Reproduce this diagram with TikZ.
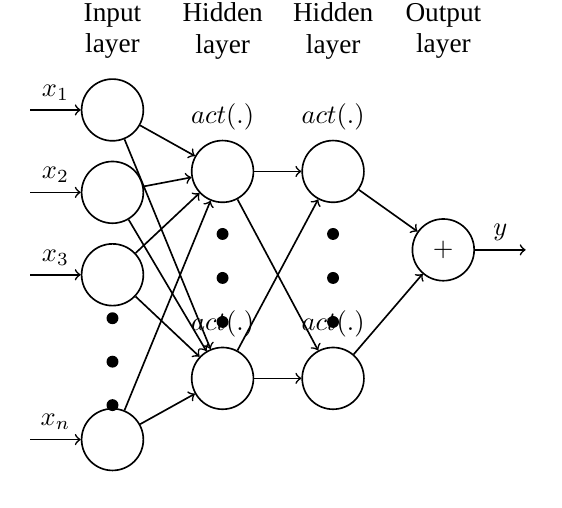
\documentclass[tikz,border=0pt]{standalone}
\usepackage[no-math]{fontspec}
\setmainfont{Liberation Serif}
\usepackage{tikz}
\usetikzlibrary{arrows,shapes,positioning}
\tikzstyle{neuron} = [circle, minimum size = 23.3pt, inner sep = 0pt, draw = black]
\tikzstyle{dot} = [circle, minimum size = 4.5pt, inner sep = 0pt, fill = black]
\tikzstyle{head} = [align = center, font = \fontsize{10.3}{12}\selectfont]

\begin{document}
\begin{tikzpicture}[node distance = 31.1pt, line width = 0.62pt]
        \useasboundingbox (0,0) rectangle (212.1pt,-191.7pt);
        % input layer
        \node (in1) [neuron] at (42.45pt,-41.5pt) {};
        \node (in2) [neuron,below of=in1] {};
        \node (in3) [neuron,below of=in2] {};
        \node (inn) [neuron,below of=in3,node distance=62.2pt] {};
        % hidden layers
        \node (h1a) [neuron,label={above:$act(.)$}] at (84pt,-64.7pt) {};
        \node (h1b) [neuron,label={above:$act(.)$},below of=h1a,node distance=78.1pt] {};
        \node (h2a) [neuron,label={above:$act(.)$},right of=h1a,node distance=41.7pt] {};
        \node (h2b) [neuron,label={above:$act(.)$},right of=h1b,node distance=41.7pt] {};
        % output layer
        \node (out) [neuron] at (167.3pt,-94.3pt) {$+$};
        % titles
        \node (lin)  [head,above of=in1,node distance=29.8pt] {Input\\layer};
        \node (lh1)  [head,right of=lin,node distance=41.6pt] {Hidden\\layer};
        \node (lh2)  [head,right of=lh1,node distance=41.7pt] {Hidden\\layer};
        \node (lout) [head,right of=lh2,node distance=41.6pt] {Output\\layer};
        % free ends
        \node (s1) [coordinate,left of=in1] {};
        \node (s2) [coordinate,left of=in2] {};
        \node (s3) [coordinate,left of=in3] {};
        \node (sn) [coordinate,left of=inn] {};
        \node (yend) [coordinate,right of=out] {};
        % inputs
        \draw [->] (s1) -- node[above]{$x_1$} (in1);
        \draw [->] (s2) -- node[above]{$x_2$} (in2);
        \draw [->] (s3) -- node[above]{$x_3$} (in3);
        \draw [->] (sn) -- node[above]{$x_n$} (inn);
        % input to hidden
        \draw [->] (in1) -- (h1a);
        \draw [->] (in1) -- (h1b);
        \draw [->] (in2) -- (h1a);
        \draw [->] (in2) -- (h1b);
        \draw [->] (in3) -- (h1a);
        \draw [->] (in3) -- (h1b);
        \draw [->] (inn) -- (h1a);
        \draw [->] (inn) -- (h1b);
        % hidden to hidden
        \draw [->] (h1a) -- (h2a);
        \draw [->] (h1a) -- (h2b);
        \draw [->] (h1b) -- (h2a);
        \draw [->] (h1b) -- (h2b);
        % hidden to output
        \draw [->] (h2a) -- (out);
        \draw [->] (h2b) -- (out);
        \draw [->] (out) -- node[above]{$y$} (yend);
        % dots
        \node (di1) [dot,below of=in3,node distance=16.4pt] {};
        \node (di2) [dot,below of=di1,node distance=16.4pt] {};
        \node (di3) [dot,below of=di2,node distance=16.4pt] {};
        \node (da1) [dot,below of=h1a,node distance=23.6pt] {};
        \node (da2) [dot,below of=da1,node distance=16.6pt] {};
        \node (da3) [dot,below of=da2,node distance=16.6pt] {};
        \node (db1) [dot,below of=h2a,node distance=23.6pt] {};
        \node (db2) [dot,below of=db1,node distance=16.6pt] {};
        \node (db3) [dot,below of=db2,node distance=16.6pt] {};
\end{tikzpicture}
\end{document}
